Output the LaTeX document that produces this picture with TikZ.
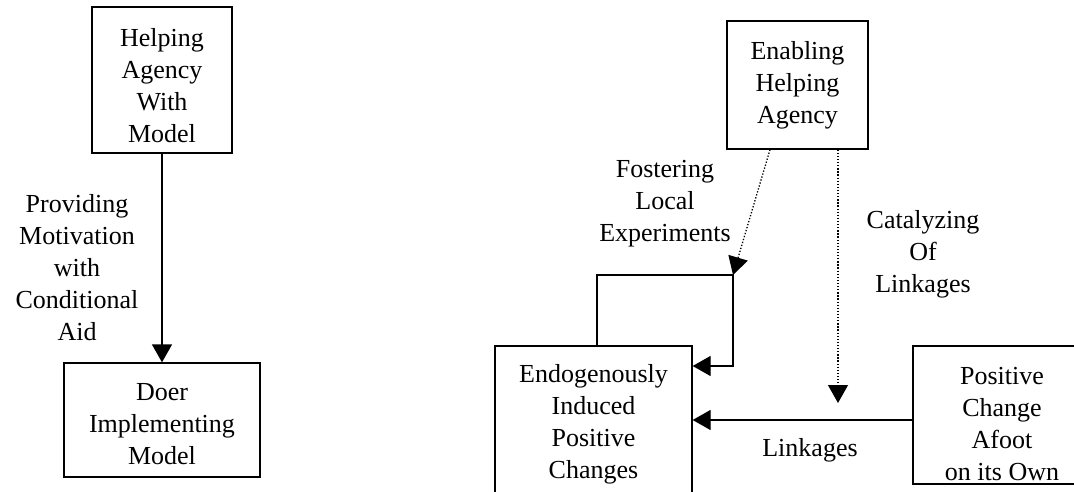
\documentclass[tikz,border=0pt]{standalone}
\usepackage{fontspec}
\setmainfont{Liberation Serif}
\usetikzlibrary{arrows.meta}

\begin{document}
\begin{tikzpicture}[x=1pt,y=-1pt,
		every node/.style={font=\fontsize{26pt}{32pt}\selectfont, align=center},
		box/.style={draw, line width=1.3pt, inner sep=0pt},
		flow/.style={-{Triangle[length=18pt,width=20pt]}, line width=1.3pt},
		hint/.style={flow, dash pattern=on 1.3pt off 1.8pt}]
		\useasboundingbox (0,0) rectangle (1074,492);
		\clip (0,0) rectangle (1074,492);
		% left part
		\node[box, minimum width=140pt, minimum height=146pt, text height=126pt] (help) at (162,80) {Helping\\Agency\\With\\Model};
		\node[box, minimum width=196pt, minimum height=114pt, text height=90pt] (doer) at (162,420) {Doer\\Implementing\\Model};
		\node (provide) at (77,268) {Providing\\Motivation\\with\\Conditional\\Aid};
		\draw[flow] (help) -- (doer);
		% right part
		\node[box, minimum width=141pt, minimum height=128pt] (enab) at (797.5,85) {Enabling\\Helping\\Agency};
		\node[box, minimum width=197pt, minimum height=148pt, text height=122pt] (endo) at (593.5,420) {Endogenously\\Induced\\Positive\\Changes};
		\node[box, minimum width=178pt, minimum height=138pt, text height=132pt] (pos) at (1002,415) {Positive\\Change\\Afoot\\on its Own};
		\node (foster) at (665,204) {Fostering\\Local\\Experiments};
		\node (catal) at (923,254) {Catalyzing\\Of\\Linkages};
		\node (linklab) at (810,450) {Linkages};
		\coordinate (loop) at (733,275);
		\coordinate (cat) at (838,403);
		\draw[flow] ([xshift=3.5pt]endo.north) |- (loop) |- ([yshift=54pt]endo.east);
		\draw[flow] (pos.west |- endo.east) -- (endo.east);
		\draw[hint] ([xshift=-27.5pt]enab.south) -- (loop);
		\draw[hint] ([xshift=40.5pt]enab.south) -- (cat);
	\end{tikzpicture}
\end{document}
